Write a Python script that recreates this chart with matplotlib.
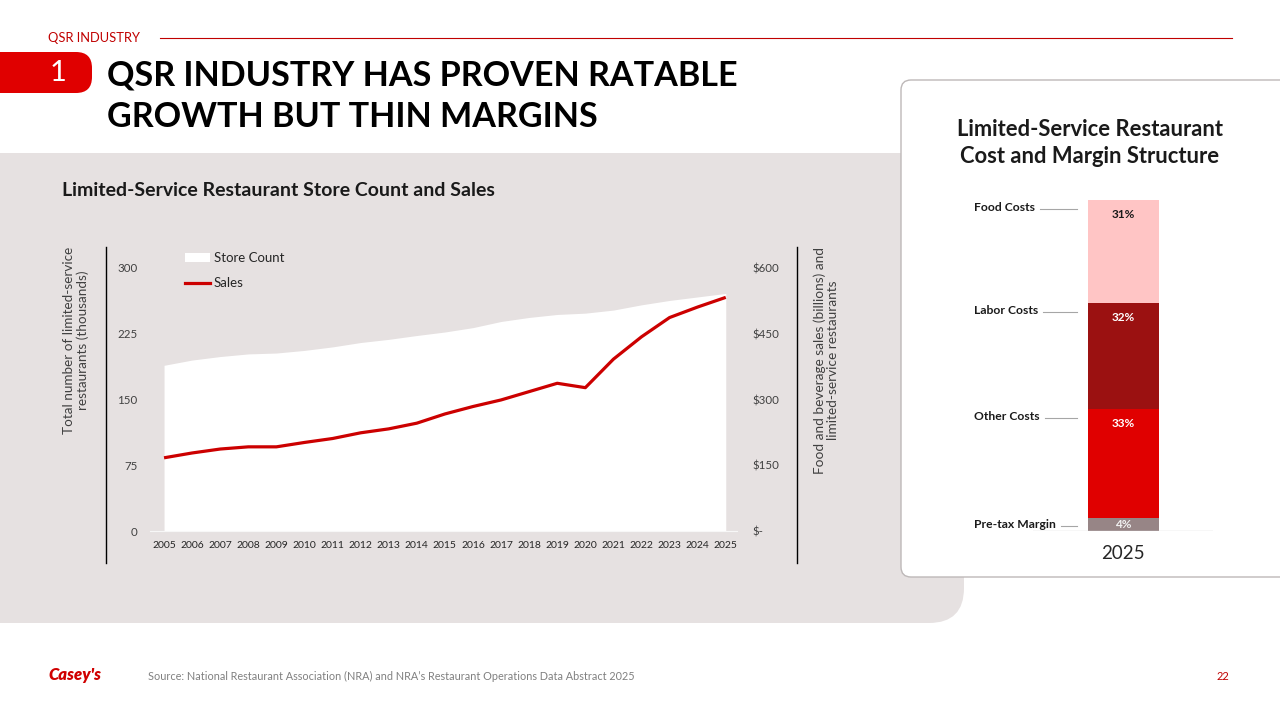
import matplotlib
matplotlib.use('Agg')
import matplotlib.pyplot as plt
from matplotlib.patches import FancyBboxPatch, Patch
from matplotlib.lines import Line2D
from matplotlib.transforms import blended_transform_factory

plt.rcParams['font.family'] = ['Lato', 'DejaVu Sans']

# ---------------- data ----------------
years = list(range(2005, 2026))
store_count = [189, 195, 199, 202, 203, 206, 210, 215, 218.6, 223, 227, 232,
               239, 243.6, 247, 248.5, 252, 258, 263, 267, 271]
sales = [167, 178, 187, 192, 192, 202, 211, 224, 233, 246, 267, 284,
         299, 318, 337, 327, 392, 443, 487, 511, 533]
left_ticks = [0, 75, 150, 225, 300]
right_ticks = [0, 150, 300, 450, 600]
right_tick_labels = ['$-', '$150', '$300', '$450', '$600']

cost_categories = ['Pre-tax Margin', 'Other Costs', 'Labor Costs', 'Food Costs']
cost_shares = [4, 33, 32, 31]
cost_colors = ['#978586', '#E00000', '#9B1111', '#FFC5C5']
value_colors = ['#F2F2F2', 'white', 'white', '#1a1a1a']
bar_year = '2025'

# ---------------- figure ----------------
W, H = 1280, 720
fig = plt.figure(figsize=(12.8, 7.2), dpi=100)
fig.patch.set_facecolor('white')
bg = fig.add_axes([0, 0, 1, 1])
bg.set_xlim(0, W)
bg.set_ylim(H, 0)
bg.axis('off')


def fx(px):
    return px / W


def fy(py):
    return 1 - py / H


# grey panel
bg.add_patch(FancyBboxPatch((-60, 153), 964 + 60, 623 - 153,
                            boxstyle='round,pad=0,rounding_size=35',
                            fc='#E6E1E1', ec='none'))
# white card
bg.add_patch(FancyBboxPatch((901, 80), 420, 497,
                            boxstyle='round,pad=0,rounding_size=10',
                            fc='white', ec='#BDB8B8', lw=1))

# header
bg.text(48, 38, 'QSR INDUSTRY', color='#C00000', fontsize=9.3, va='center')
bg.plot([160, 1232], [38, 38], color='#C00000', lw=0.8)
bg.add_patch(FancyBboxPatch((-40, 52), 132, 41,
                            boxstyle='round,pad=0,rounding_size=16',
                            fc='#E00000', ec='none'))
bg.text(58, 73, '1', color='white', fontsize=21, ha='center', va='center')
bg.text(107, 59, 'QSR INDUSTRY HAS PROVEN RATABLE\nGROWTH BUT THIN MARGINS',
        fontsize=24.6, weight='bold', color='black', va='top', linespacing=1.38)

# subtitle
bg.text(62, 191, 'Limited-Service Restaurant Store Count and Sales',
        fontsize=14, weight='bold', color='#1a1a1a', va='center')

# card title
bg.text(1090, 143, 'Limited-Service Restaurant\nCost and Margin Structure',
        ha='center', va='center', fontsize=15.8, weight='bold',
        color='#1a1a1a', linespacing=1.4)

# ---------------- line / area chart ----------------
ax = fig.add_axes([fx(150), fy(531), (737 - 150) / W, 263 / H])
ax.set_facecolor('none')
ax.fill_between(years, store_count, 0, color='white', lw=0)
ax.set_xlim(2004.5, 2025.4)
ax.set_ylim(0, 300)
ax.set_yticks(left_ticks)
ax.set_yticklabels([str(t) for t in left_ticks])
ax.set_xticks(years)
ax.set_xticklabels([str(y) for y in years])
for s in ['top', 'right', 'left']:
    ax.spines[s].set_visible(False)
ax.spines['bottom'].set_color('#F7F7F7')
ax.tick_params(axis='y', length=0, pad=9, labelsize=8.3, labelcolor='#404040')
ax.tick_params(axis='x', length=0, pad=7, labelsize=7.5, labelcolor='#262626')

ax2 = ax.twinx()
ax2.plot(years, sales, color='#CC0000', lw=2.3, solid_capstyle='butt')
ax2.set_ylim(0, 600)
ax2.set_yticks(right_ticks)
ax2.set_yticklabels(right_tick_labels)
for s in ax2.spines.values():
    s.set_visible(False)
ax2.tick_params(axis='y', length=0, pad=11, labelsize=8.3, labelcolor='#404040')
for t in ax2.get_yticklabels():
    t.set_ha('left')

ax2.legend(handles=[Patch(fc='white', ec='none', label='Store Count'),
                    Line2D([], [], color='#CC0000', lw=2.3, label='Sales')],
           loc='upper left', bbox_to_anchor=(fx(185), fy(252)),
           bbox_transform=fig.transFigure, frameon=False, fontsize=9.5,
           handlelength=1.9, handletextpad=0.3, labelspacing=1.0,
           borderaxespad=0, borderpad=0, labelcolor='#262626')

# axis titles and separators
bg.text(76, 340, 'Total number of limited-service\nrestaurants (thousands)',
        rotation=90, ha='center', va='center', fontsize=9.7, color='#404040',
        linespacing=1.1)
bg.text(826, 360, 'Food and beverage sales (billions) and\nlimited-service restaurants',
        rotation=90, ha='center', va='center', fontsize=9.8, color='#404040',
        linespacing=1.1)
bg.plot([106, 106], [247, 563], color='black', lw=1)
bg.plot([797, 797], [247, 563], color='black', lw=1)

# ---------------- stacked bar ----------------
bx = fig.add_axes([fx(1033), fy(531), 180 / W, 331 / H])
bx.set_facecolor('none')
bx.set_xlim(-0.5, 0.5)
bx.set_ylim(0, 100)
bottom = 0
tops = []
for cat, share, col, vcol in zip(cost_categories, cost_shares, cost_colors, value_colors):
    bx.bar(0, share, bottom=bottom, width=71 / 180, color=col, lw=0)
    top = bottom + share
    tops.append(top)
    if share < 8:
        vy = bottom + share / 2
    else:
        vy = top - 4.5
    bx.text(0, vy, f'{share}%', ha='center', va='center', fontsize=8.5,
            weight='bold', color=vcol)
    bottom = top
for s in bx.spines.values():
    s.set_visible(False)
bx.axhline(0, color='#D9D9D9', lw=1)
bx.set_yticks([])
bx.set_xticks([0])
bx.set_xticklabels([bar_year])
bx.tick_params(axis='x', length=0, pad=10, labelsize=13.5, labelcolor='#262626')

tr = blended_transform_factory(bg.transData, bx.transData)
cat_texts = []
for cat, share, top in zip(cost_categories, cost_shares, tops):
    ly = top - min(2.3, share / 2)
    t = bg.text(974, ly, cat, transform=tr, ha='left', va='center',
                fontsize=8.7, weight='bold', color='#1a1a1a')
    cat_texts.append((t, ly))

fig.canvas.draw()
for t, ly in cat_texts:
    bb = t.get_window_extent()
    x_end = bb.x1
    bg.plot([x_end + 5, 1077], [ly - 0.5, ly - 0.5], transform=tr,
            color='#A6A6A6', lw=0.8)

# ---------------- footer ----------------
bg.text(48, 675, "Casey's", color='#D00000', fontsize=12, weight='heavy',
        style='italic', va='center')
bg.text(148, 676, 'Source: National Restaurant Association (NRA) and NRA\u2019s '
        'Restaurant Operations Data Abstract 2025', fontsize=7.8,
        color='#808080', va='center')
bg.text(1223, 676, '22', color='#C00000', fontsize=8, ha='center', va='center')

fig.savefig('out.png', dpi=100)
